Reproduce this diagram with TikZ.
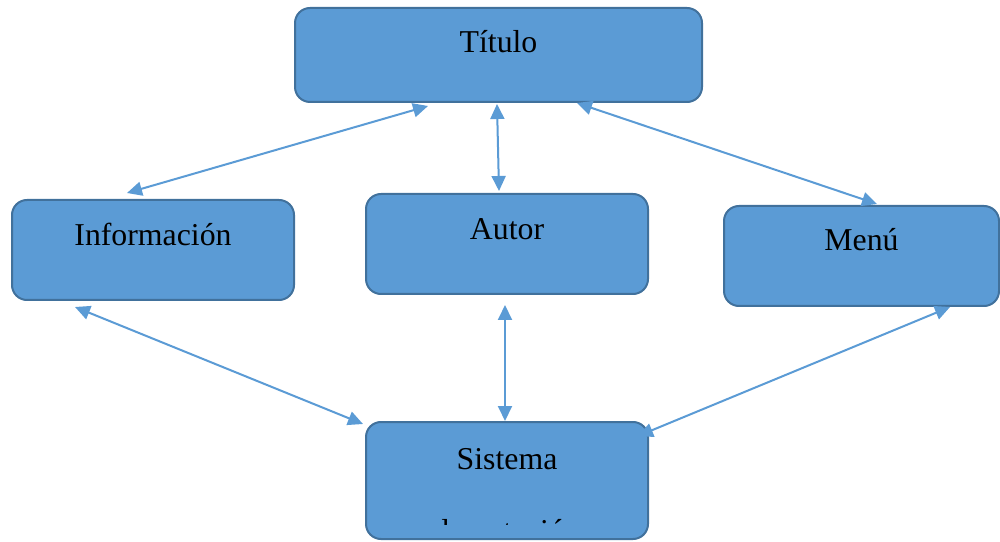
\documentclass[tikz,border=0pt]{standalone}
\usepackage{fontspec}
\setmainfont{Liberation Serif}
\usetikzlibrary{arrows.meta}
\definecolor{boxfill}{HTML}{5B9BD5}
\definecolor{boxline}{HTML}{41719C}
\definecolor{linkcol}{HTML}{5B9BD5}
\begin{document}
\begin{tikzpicture}[x=1pt,y=1pt,
  panel/.style={draw=boxline, line width=2pt, fill=boxfill, rounded corners=15pt,
    inner sep=0pt, outer sep=0pt},
  lbl/.style={anchor=base, inner sep=0pt, font=\fontsize{31.8}{38}\selectfont},
  link/.style={draw=linkcol, line width=2pt,
    {Triangle[length=15pt,width=14pt]}-{Triangle[length=15pt,width=14pt]}}]
\useasboundingbox (0,0) rectangle (1000,541);

% boxes
\node[panel, minimum width=407pt, minimum height=94pt] (titulo) at (498.5,486) {};
\node[panel, minimum width=282pt, minimum height=100pt] (info) at (153,291) {};
\node[panel, minimum width=282pt, minimum height=100pt] (autor) at (507,297) {};
\node[panel, minimum width=275pt, minimum height=100pt] (menu) at (861.5,285) {};
\node[panel, minimum width=282pt, minimum height=117pt] (sistema) at (507,60.5) {};

% labels
\node[lbl] (tTitulo) at ([yshift=-45pt]titulo.north) {Título};
\node[lbl] (tInfo) at ([yshift=-46pt]info.north) {Información};
\node[lbl] (tAutor) at ([yshift=-46pt]autor.north) {Autor};
\node[lbl] (tMenu) at ([yshift=-45pt]menu.north) {Menú};
\node[lbl] (tSistema) at ([yshift=-47pt]sistema.north) {Sistema};
% second line runs past the text area of the box and is cut there
\begin{scope}
  \clip (sistema.north west) rectangle ([yshift=-102pt]sistema.north east);
  \node[lbl] (tSistema2) at ([yshift=-119pt]sistema.north) {de votación};
\end{scope}

% connectors
\coordinate (a1) at ([xshift=-70.5pt,yshift=-4pt]titulo.south);
\coordinate (b1) at ([xshift=-26pt,yshift=7pt]info.north);
\draw[link] (a1) -- (b1);
\coordinate (a2) at ([xshift=-1.5pt,yshift=-2pt]titulo.south);
\coordinate (b2) at ([xshift=-8pt,yshift=3pt]autor.north);
\draw[link] (a2) -- (b2);
\coordinate (a3) at ([xshift=78.5pt,yshift=-1pt]titulo.south);
\coordinate (b3) at ([xshift=15.5pt,yshift=2pt]menu.north);
\draw[link] (a3) -- (b3);
\coordinate (a4) at ([xshift=-78pt,yshift=-7pt]info.south);
\coordinate (b4) at ([xshift=-3pt,yshift=-2pt]sistema.north west);
\draw[link] (a4) -- (b4);
\coordinate (a5) at ([xshift=-2pt,yshift=-11pt]autor.south);
\coordinate (b5) at ([xshift=-2pt,yshift=1pt]sistema.north);
\draw[link] (a5) -- (b5);
\coordinate (a6) at ([xshift=88.5pt,yshift=-1pt]menu.south);
\coordinate (b6) at ([xshift=-10pt,yshift=-14pt]sistema.north east);
\draw[link] (a6) -- (b6);
\end{tikzpicture}
\end{document}
